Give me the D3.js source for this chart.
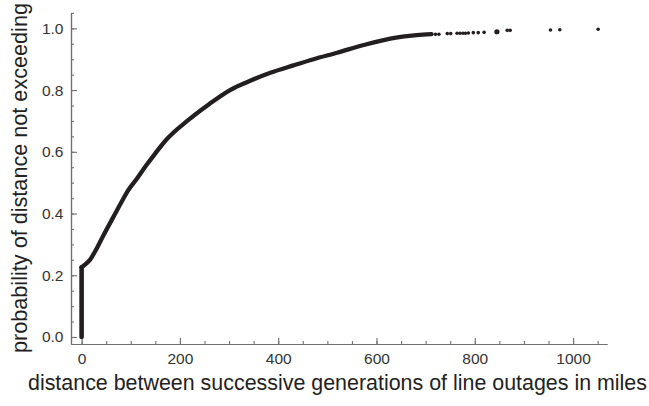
<!DOCTYPE html>
<html>
<head>
<meta charset="utf-8">
<script src="https://cdn.jsdelivr.net/npm/d3@7"></script>
<style>
  html, body { margin: 0; padding: 0; background: #fff; }
  svg { display: block; font-family: "Liberation Sans", Arial, Helvetica, sans-serif; }
</style>
</head>
<body>
<svg id="chart" width="649" height="406"></svg>
<script>
// Dense part of the empirical CDF (distance in miles, cumulative probability)
const curveDistance = [0, 0, 8, 17, 27, 44, 65, 82, 95, 112, 132, 150, 170, 218, 260, 302, 343, 384, 431, 472, 520, 574, 628, 682, 712];
const curveProb     = [0, 0.226, 0.236, 0.250, 0.276, 0.328, 0.390, 0.440, 0.476, 0.512, 0.557, 0.595, 0.635, 0.704, 0.755, 0.800, 0.830, 0.856, 0.880, 0.900, 0.921, 0.946, 0.967, 0.978, 0.981];
// Sparse tail points
const tailDistance = [720, 727, 744, 751, 764, 770, 776, 781, 787, 797, 807, 819, 845, 866, 872, 954, 973, 1051];
const tailProb     = [0.981, 0.981, 0.983, 0.983, 0.984, 0.984, 0.984, 0.984, 0.985, 0.986, 0.986, 0.987, 0.989, 0.9935, 0.9935, 0.9945, 0.9955, 0.997];
const tailWeight   = [1, 1, 1, 1, 1, 1, 1, 1, 1, 1, 1, 1, 2, 1, 1, 1, 1, 1];
// Axis ticks
const xTicks = [0, 200, 400, 600, 800, 1000];
const xMinorTicks = [0, 50, 100, 150, 200, 250, 300, 350, 400, 450, 500, 550, 600, 650, 700, 750, 800, 850, 900, 950, 1000, 1050];
const yTicks = [0, 0.2, 0.4, 0.6, 0.8, 1.0];
const yMinorTicks = [0, 0.05, 0.1, 0.15, 0.2, 0.25, 0.3, 0.35, 0.4, 0.45, 0.5, 0.55, 0.6, 0.65, 0.7, 0.75, 0.8, 0.85, 0.9, 0.95, 1.0, 1.05];
const xTitle = "distance between successive generations of line outages in miles";
const yTitle = "probability of distance not exceeding";

const svg = d3.select("#chart");
const x = d3.scaleLinear().domain([-21.6, 1069]).range([71, 607]);
const y = d3.scaleLinear().domain([-0.0227, 1.05]).range([344, 12.9]);

const axisColor = "#707070";
const textColor = "#333";
const markColor = "#231f20";

// X axis
const gx = svg.append("g").attr("transform", `translate(0,${y.range()[0]})`);
gx.append("g").call(d3.axisBottom(x).tickValues(xMinorTicks).tickSizeInner(-3).tickSizeOuter(0).tickFormat(""));
gx.append("g").call(d3.axisBottom(x).tickValues(xTicks).tickSizeInner(-6).tickSizeOuter(0).tickPadding(8.5).tickFormat(d3.format("d")));

// Y axis
const gy = svg.append("g").attr("transform", `translate(${x.range()[0]},0)`);
gy.append("g").call(d3.axisLeft(y).tickValues(yMinorTicks).tickSizeInner(-3).tickSizeOuter(0).tickFormat(""));
gy.append("g").call(d3.axisLeft(y).tickValues(yTicks).tickSizeInner(-6).tickSizeOuter(0).tickPadding(7.5).tickFormat(d3.format(".1f")));

svg.selectAll(".domain").attr("stroke", axisColor).attr("stroke-width", 1.2);
svg.selectAll(".tick line").attr("stroke", axisColor).attr("stroke-width", 1.1);
svg.selectAll(".tick text").attr("fill", textColor).attr("font-size", "15.5px")
   .attr("font-family", "'Liberation Sans', Arial, sans-serif");

// Curve
const pts = curveDistance.map((d, i) => [d, curveProb[i]]);
const line = d3.line().x(d => x(d[0])).y(d => y(d[1])).curve(d3.curveMonotoneX);
svg.append("path")
  .datum(pts.slice(1))
  .attr("d", line)
  .attr("fill", "none")
  .attr("stroke", markColor)
  .attr("stroke-width", 4.3)
  .attr("stroke-linejoin", "round")
  .attr("stroke-linecap", "round");
svg.append("path")
  .datum(pts.slice(0, 2))
  .attr("d", d3.line().x(d => x(d[0])).y(d => y(d[1])))
  .attr("fill", "none")
  .attr("stroke", markColor)
  .attr("stroke-width", 4.6)
  .attr("stroke-linecap", "round");

// Tail points
svg.append("g").selectAll("circle")
  .data(tailDistance.map((d, i) => ({d, p: tailProb[i], w: tailWeight[i]})))
  .join("circle")
  .attr("cx", d => x(d.d))
  .attr("cy", d => y(d.p))
  .attr("r", d => d.w > 1 ? 2.6 : 1.8)
  .attr("fill", markColor);

// Axis titles
svg.append("text")
  .attr("x", 337.5).attr("y", 390)
  .attr("text-anchor", "middle")
  .attr("font-size", "21.4px")
  .attr("fill", "#222")
  .attr("textLength", 619)
  .attr("lengthAdjust", "spacingAndGlyphs")
  .text(xTitle);

svg.append("text")
  .attr("transform", "translate(27.3,178) rotate(-90)")
  .attr("text-anchor", "middle")
  .attr("font-size", "21.4px")
  .attr("fill", "#222")
  .attr("textLength", 350)
  .attr("lengthAdjust", "spacingAndGlyphs")
  .text(yTitle);
</script>
</body>
</html>
